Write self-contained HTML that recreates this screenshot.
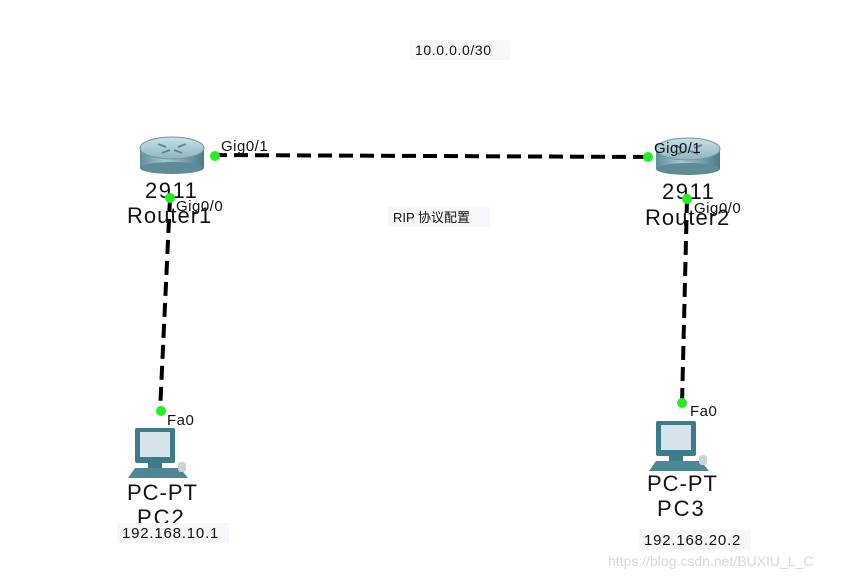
<!DOCTYPE html>
<html><head><meta charset="utf-8"><style>
body{margin:0;background:#fff;}
svg text{font-family:"Liberation Sans","Noto Sans CJK SC",sans-serif;}
</style></head><body>
<svg width="846" height="576" viewBox="0 0 846 576" xmlns="http://www.w3.org/2000/svg">
<defs>
<linearGradient id="rt" x1="0" y1="0" x2="1" y2="0">
<stop offset="0" stop-color="#5f8f9c"/><stop offset="0.4" stop-color="#a9c9d2"/><stop offset="1" stop-color="#4a7a88"/></linearGradient>
<linearGradient id="rtop" x1="0" y1="0" x2="0" y2="1">
<stop offset="0" stop-color="#c9e0e6"/><stop offset="1" stop-color="#8fb5bf"/></linearGradient>
</defs>
<rect x="410" y="40" width="100" height="20" fill="#f6f7fa"/>
<text x="415" y="55" font-size="14" letter-spacing="0.6" fill="#111">10.0.0.0/30</text>
<rect x="388" y="207" width="102" height="20" fill="#f6f7fa"/>
<text x="393" y="222" font-size="13" fill="#111">RIP 协议配置</text>

<g stroke="#000" stroke-width="4" stroke-dasharray="14,7" fill="none">
<line x1="213" y1="155" x2="650" y2="157"/>
<line x1="170" y1="198" x2="160" y2="412"/>
<line x1="687" y1="199" x2="682" y2="404"/>
</g>

<g id="r1">
<rect x="140" y="148" width="64" height="20" fill="url(#rt)"/>
<ellipse cx="172" cy="168" rx="32" ry="6" fill="#5d8b97"/>
<ellipse cx="172" cy="148" rx="32" ry="11" fill="url(#rtop)" stroke="#6c98a3"/>
<path d="M158 144 l8 3 M186 144 l-8 3 M162 153 l8 -3 M182 153 l-8 -3" stroke="#5b8692" stroke-width="2"/>
</g>
<use href="#r1" x="516" y="1"/>

<g font-size="22" fill="#111">
<text x="145" y="198" letter-spacing="1.5">2911</text>
<text x="127" y="223" letter-spacing="1">Router1</text>
<text x="662" y="199" letter-spacing="1.5">2911</text>
<text x="645" y="225" letter-spacing="1">Router2</text>
<text x="127" y="500" letter-spacing="1">PC-PT</text>
<text x="137" y="525" letter-spacing="2">PC2</text>
<text x="647" y="491" letter-spacing="1">PC-PT</text>
<text x="657" y="516" letter-spacing="2">PC3</text>
</g>
<g font-size="15" fill="#111" letter-spacing="0.5">
<text x="221" y="151">Gig0/1</text>
<text x="176" y="211">Gig0/0</text>
<text x="654" y="153">Gig0/1</text>
<text x="694" y="213">Gig0/0</text>
<text x="167" y="425">Fa0</text>
<text x="690" y="416">Fa0</text>
</g>
<g fill="#22ee22">
<circle cx="215" cy="156" r="5"/><circle cx="648" cy="157" r="5"/>
<circle cx="170" cy="198" r="5"/><circle cx="687" cy="199" r="5"/>
<circle cx="161" cy="411" r="5"/><circle cx="682" cy="403" r="5"/>
</g>

<g id="pc">
<rect x="135" y="428" width="40" height="35" fill="#3d7b8a" rx="2"/>
<rect x="140" y="432" width="30" height="25" fill="#d5e4ea"/>
<rect x="148" y="463" width="14" height="5" fill="#3d7b8a"/>
<polygon points="135,468 180,468 188,478 128,478" fill="#4e8695"/>
<rect x="178" y="462" width="8" height="10" fill="#c8d4d8" rx="3"/>
</g>
<use href="#pc" x="521" y="-7"/>

<rect x="117" y="523" width="112" height="20" fill="#f6f7fa"/>
<text x="122" y="538" font-size="15" letter-spacing="0.8" fill="#111">192.168.10.1</text>
<rect x="639" y="530" width="112" height="20" fill="#f6f7fa"/>
<text x="644" y="545" font-size="15" letter-spacing="0.8" fill="#111">192.168.20.2</text>
<text x="608" y="566" font-size="14" fill="#d8d8d8">https://blog.csdn.net/BUXIU_L_C</text>
</svg>
</body></html>
